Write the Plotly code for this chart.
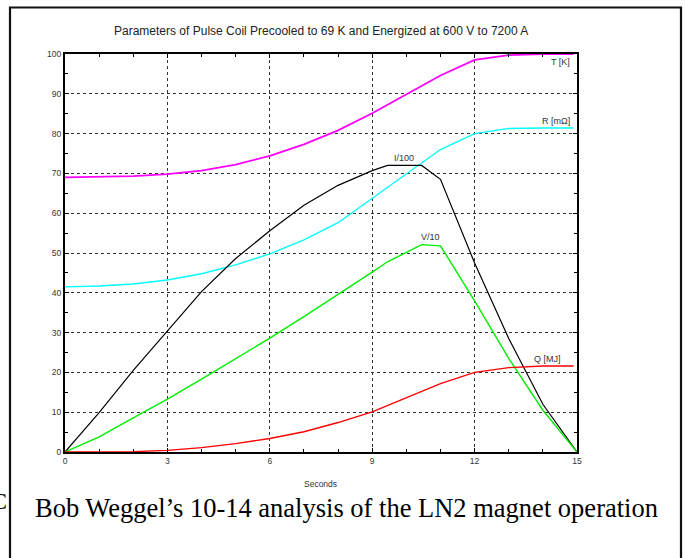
import plotly.graph_objects as go

# Time bases (s) and series values
t_T = [0, 1, 2, 3, 4, 5, 6, 7, 8, 9, 10, 11, 12, 13, 14, 14.9]
T_K = [69.0, 69.1, 69.3, 69.8, 70.7, 72.2, 74.4, 77.3, 80.8, 85.1, 89.8, 94.6, 98.5, 99.7, 100.0, 100.0]

t_R = [0, 1, 2, 3, 4, 5, 6, 7, 8, 9, 10, 11, 12, 13, 14, 14.9]
R_mOhm = [41.5, 41.7, 42.2, 43.2, 44.8, 47.0, 49.8, 53.3, 57.6, 63.7, 69.8, 76.0, 80.0, 81.3, 81.4, 81.4]

t_I = [0, 1, 2, 3, 4, 5, 6, 7, 8, 9, 9.45, 10.45, 11, 12, 13, 14, 15]
I_100 = [0, 9.9, 20.5, 30.5, 40.3, 48.6, 55.6, 62.0, 67.0, 70.7, 72.0, 72.0, 68.5, 47.5, 28.5, 12.0, 0]

t_V = [0, 1, 2, 3, 4, 5, 6, 7, 8, 9, 9.45, 10.45, 11, 12, 13, 14, 15]
V_10 = [0, 3.8, 8.6, 13.3, 18.3, 23.4, 28.6, 34.0, 39.5, 45.2, 47.8, 52.1, 51.8, 38.0, 23.5, 10.5, 0]

t_Q = [0, 1, 2, 3, 4, 5, 6, 7, 8, 9, 10, 11, 12, 13, 14, 14.9]
Q_MJ = [0, 0, 0.1, 0.4, 1.1, 2.1, 3.4, 5.1, 7.4, 10.1, 13.6, 17.2, 20.0, 21.2, 21.6, 21.6]

x_ticks = [0, 3, 6, 9, 12, 15]
y_ticks = [0, 10, 20, 30, 40, 50, 60, 70, 80, 90, 100]

series = [
    (t_T, T_K, "#ff00ff", 1.8),
    (t_R, R_mOhm, "#00ffff", 1.4),
    (t_I, I_100, "#000000", 1.2),
    (t_V, V_10, "#00ee00", 1.4),
    (t_Q, Q_MJ, "#ff0000", 1.4),
]

fig = go.Figure()
for xs, ys, col, w in series:
    fig.add_trace(go.Scatter(x=xs, y=ys, mode="lines",
                             line=dict(color=col, width=w), showlegend=False,
                             hoverinfo="skip"))

label_font = dict(family="Liberation Sans, Arial", size=9, color="#333333")
# curve labels: (text, x, y, xanchor, yanchor)
curve_labels = [
    ("T [K]", 14.83, 99.4, "right", "top"),
    ("R [mΩ]", 14.83, 81.7, "right", "bottom"),
    ("I/100", 9.93, 72.3, "center", "bottom"),
    ("V/10", 10.7, 52.6, "center", "bottom"),
    ("Q [MJ]", 14.55, 21.9, "right", "bottom"),
]
for txt, x, y, xa, ya in curve_labels:
    fig.add_annotation(text=txt, x=x, y=y, xref="x", yref="y", showarrow=False,
                       xanchor=xa, yanchor=ya, font=label_font,
                       borderpad=0)

W, H = 686, 558
L, R_, TOP, B = 65, 577, 54, 452


def px(xp):
    return (xp - L) / (R_ - L)


def py(yp):
    return (B - yp) / (B - TOP)


fig.add_annotation(text="Parameters of Pulse Coil Precooled to 69 K and Energized at 600 V to 7200 A",
                   x=0.5, y=py(31), xref="paper", yref="paper", showarrow=False,
                   xanchor="center", yanchor="middle",
                   font=dict(family="Liberation Sans, Arial", size=12, color="#222222"))
fig.add_annotation(text="Seconds", x=px(320), y=py(484), xref="paper", yref="paper",
                   showarrow=False, xanchor="center", yanchor="middle",
                   font=dict(family="Liberation Sans, Arial", size=8.5, color="#333333"))
fig.add_annotation(text="Bob Weggel’s 10-14 analysis of the LN2 magnet operation",
                   x=px(346), y=py(508), xref="paper", yref="paper", showarrow=False,
                   xanchor="center", yanchor="middle",
                   font=dict(family="Liberation Serif, Times New Roman", size=26.5, color="#000000"))
fig.add_annotation(text="C", x=px(9), y=py(501), xref="paper", yref="paper", showarrow=False,
                   xanchor="right", yanchor="middle",
                   font=dict(family="Liberation Serif, Times New Roman", size=24, color="#000000"))

# open frame around the figure (no bottom edge)
fig.add_shape(type="path", xref="paper", yref="paper",
              path=f"M {px(10)},{py(570)} L {px(10)},{py(7.5)} L {px(681)},{py(7.5)} L {px(681)},{py(570)}",
              line=dict(color="#111111", width=2.2))

axis_common = dict(
    showline=True, linecolor="#000000", linewidth=2, mirror="allticks",
    ticks="inside", ticklen=4, tickcolor="#000000", tickwidth=1,
    showgrid=True, gridcolor="#333333", gridwidth=1, griddash="dot",
    zeroline=False, tickfont=dict(family="Liberation Sans, Arial", size=8.5, color="#333333"),
)

fig.update_xaxes(range=[0, 15], tickvals=x_ticks, ticktext=[str(v) for v in x_ticks],
                 minor=dict(dtick=1, tick0=0, ticks="inside", ticklen=3, tickcolor="#000000", showgrid=False),
                 **axis_common)
fig.update_yaxes(range=[0, 100], tickvals=y_ticks, ticktext=[str(v) for v in y_ticks],
                 minor=dict(dtick=5, tick0=0, ticks="inside", ticklen=3, tickcolor="#000000", showgrid=False),
                 **axis_common)

fig.update_layout(width=W, height=H,
                  margin=dict(l=L, r=W - R_, t=TOP, b=H - B, pad=0),
                  paper_bgcolor="white", plot_bgcolor="white")

fig.write_html("out.html")
